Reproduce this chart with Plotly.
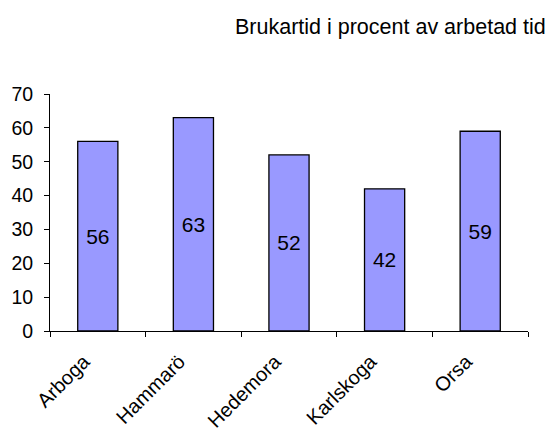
import plotly.graph_objects as go

categories = ["Arboga", "Hammarö", "Hedemora", "Karlskoga", "Orsa"]
values = [56, 63, 52, 42, 59]
title_text = "Brukartid i procent av arbetad tid"

fig = go.Figure(go.Bar(
    x=categories, y=values,
    text=[str(v) for v in values],
    textposition="inside", insidetextanchor="middle",
    textfont=dict(family="Liberation Sans, Arial", size=21, color="black"),
    marker=dict(color="#9999FF", line=dict(color="black", width=1.3)),
    width=0.42,
))

fig.update_layout(
    width=547, height=433,
    margin=dict(l=50, r=19, t=94, b=102),
    paper_bgcolor="white", plot_bgcolor="white",
    showlegend=False,
    font=dict(family="Liberation Sans, Arial", size=18, color="black"),
    annotations=[dict(text=title_text, xref="paper", yref="paper",
                      x=1.042, y=1.0, yshift=67, xanchor="right", yanchor="middle",
                      showarrow=False, font=dict(size=21.5, color="black"))],
)
fig.update_xaxes(
    showline=True, linecolor="black", linewidth=1,
    ticks="outside", ticklen=5, tickcolor="black", tickson="boundaries",
    tickangle=-45, tickfont=dict(size=20), showgrid=False,
    ticklabelstandoff=10, ticklabelshift=-14, automargin=False,
)
fig.update_yaxes(
    range=[0, 70], dtick=10, showline=True, linecolor="black", linewidth=1,
    ticks="outside", ticklen=5, tickcolor="black", showgrid=False, zeroline=False,
    tickfont=dict(size=19.5), automargin=False, ticklabelstandoff=7,
)

fig.write_html("out.html", config={"displayModeBar": False},
               post_script="document.body.style.margin='0';")
